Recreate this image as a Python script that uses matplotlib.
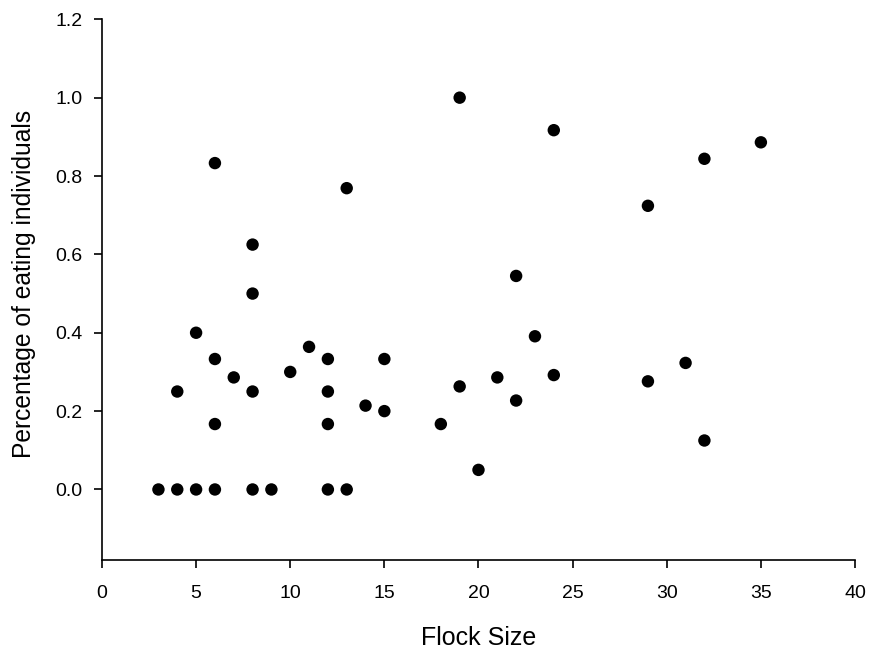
import matplotlib
matplotlib.use("Agg")
import matplotlib.pyplot as plt

# Flock size and share of individuals eating in each observed flock
flock_size = [3, 4, 5, 6, 8, 9, 12, 13,
              4, 5, 6, 6, 6, 7, 8, 8, 8, 10, 11,
              12, 12, 12, 13, 14, 15, 15, 18, 19, 19, 20,
              21, 22, 22, 23, 24, 24, 29, 29, 31, 32, 32, 35]
pct_eating = [0.0, 0.0, 0.0, 0.0, 0.0, 0.0, 0.0, 0.0,
              0.25, 0.40, 0.333, 0.167, 0.833, 0.286, 0.625, 0.50, 0.25, 0.30, 0.364,
              0.333, 0.25, 0.167, 0.769, 0.214, 0.333, 0.20, 0.167, 1.0, 0.263, 0.05,
              0.286, 0.545, 0.227, 0.391, 0.917, 0.292, 0.724, 0.276, 0.323, 0.844, 0.125, 0.886]

x_ticks = [0, 5, 10, 15, 20, 25, 30, 35, 40]
y_ticks = [0.0, 0.2, 0.4, 0.6, 0.8, 1.0, 1.2]

plt.rcParams['font.family'] = ['Liberation Sans', 'DejaVu Sans']

fig = plt.figure(figsize=(8.73, 6.52), dpi=100)
ax = fig.add_axes([0.1168, 0.1411, 0.9794 - 0.1168, 0.9704 - 0.1411])

ax.scatter(flock_size, pct_eating, s=80, color='black', edgecolors='none', zorder=3)

ax.set_xlim(0, 40)
ax.set_ylim(-0.18, 1.2)
ax.set_xticks(x_ticks)
ax.set_xticklabels([str(t) for t in x_ticks])
ax.set_yticks(y_ticks)
ax.set_yticklabels([f"{t:.1f}" for t in y_ticks])

for side in ('top', 'right'):
    ax.spines[side].set_visible(False)
for side in ('left', 'bottom'):
    ax.spines[side].set_linewidth(1.2)
    ax.spines[side].set_color('black')

ax.tick_params(direction='out', length=6, width=1.2, labelsize=14, colors='black')
ax.tick_params(axis='x', pad=12)
ax.tick_params(axis='y', pad=8)

ax.set_xlabel('Flock Size', fontsize=18, labelpad=17)
ax.set_ylabel('Percentage of eating individuals', fontsize=17.7)
ax.yaxis.set_label_coords(-0.088, 0.51)

fig.savefig('out.png', dpi=100)
